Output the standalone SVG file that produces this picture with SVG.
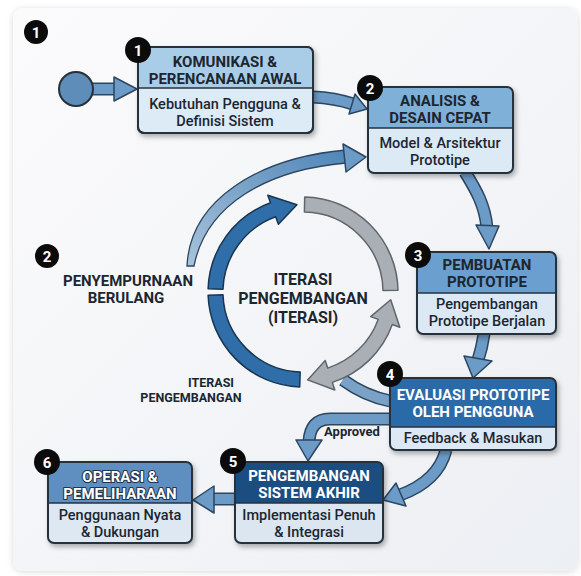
<svg xmlns="http://www.w3.org/2000/svg" width="581" height="576" viewBox="0 0 581 576">
<defs>
<linearGradient id="card" x1="0" y1="0" x2="1" y2="1"><stop offset="0" stop-color="#fbfbfc"/><stop offset="1" stop-color="#eceff3"/></linearGradient>
<linearGradient id="taper" x1="0" y1="1" x2="1" y2="0"><stop offset="0" stop-color="#a9c3da"/><stop offset="1" stop-color="#4f86b8"/></linearGradient>
<filter id="sh" x="-10%" y="-10%" width="130%" height="130%"><feDropShadow dx="2" dy="3" stdDeviation="2.5" flood-color="#000" flood-opacity="0.3"/></filter>
<filter id="csh" x="-5%" y="-5%" width="110%" height="110%"><feDropShadow dx="0" dy="1" stdDeviation="3" flood-color="#000" flood-opacity="0.15"/></filter>
</defs>
<style>
text{font-family:Roboto,"Liberation Sans",sans-serif;font-weight:700;text-anchor:middle}
.box{stroke:#27303b;stroke-width:2}
.div{stroke:#27303b;stroke-width:1.6}
.hd{font-size:15px;fill:#1c2631}
.hw{font-size:15px;fill:#ffffff}
.ho{font-size:15px;fill:#ffffff;stroke:#1f3550;stroke-width:2.2;paint-order:stroke;stroke-linejoin:round}
.bd{font-size:14.5px;font-weight:500;fill:#1c2631}
.lbl{fill:#1c2631}
.badge circle{fill:#0b0b0b}
.badge text{fill:#fff;font-size:15px}
.bandO{fill:none;stroke:#2c4660;stroke-width:13}
.bandI{fill:none;stroke:#6b9bc6;stroke-width:10}
.head{fill:#6b9bc6;stroke:#2c4660;stroke-width:1.5;stroke-linejoin:round}
.blue{fill:#2f6ea9;stroke:#1b3550;stroke-width:1.5;stroke-linejoin:round}
.gray{fill:#a9afb4;stroke:#5f666c;stroke-width:1.5;stroke-linejoin:round}
</style>
<rect x="0" y="0" width="581" height="576" fill="#ffffff"/>
<rect x="13" y="8" width="565" height="563" rx="10" fill="url(#card)" filter="url(#csh)"/>

<g id="badge-top" class="badge"><circle cx="36" cy="32" r="12"/><text x="36" y="37.5">1</text></g>

<g id="connectors">
  <!-- start arrow -->
  <path class="bandO" d="M92,89 L116,89"/><path class="bandI" d="M92,89 L116,89"/>
  <polygon class="head" points="114,77 137,89 114,101"/>
  <!-- box1 to box2 -->
  <path class="bandO" d="M313,97 Q335,98 353,104"/><path class="bandI" d="M313,97 Q335,98 353,104"/>
  <polygon class="head" points="349,114 355,94 367,109"/>
  <!-- penyempurnaan tapered arrow -->
  <path d="M187,266 C190,200 258,158 346,150 L346,163 C266,170 206,205 194,266 Z" fill="url(#taper)" stroke="#2c4660" stroke-width="1.3"/>
  <polygon class="head" points="343,144 366,157 346,172"/>
  <!-- box2 to box3 -->
  <path class="bandO" d="M465,172 C476,190 485,205 487,228"/><path class="bandI" d="M465,172 C476,190 485,205 487,228"/>
  <polygon class="head" points="476,225 499,226 489,249"/>
  <!-- box3 to box4 -->
  <path class="bandO" d="M484,334 Q482,348 478,360"/><path class="bandI" d="M484,334 Q482,348 478,360"/>
  <polygon class="head" points="464,356 492,361 473,378"/>
  <!-- box4 to cycle -->
  <path class="bandO" d="M390,401 Q365,396 343,380"/><path class="bandI" d="M390,401 Q365,396 343,380" style="stroke:#7aa2c6"/>
  <!-- approved -->
  <path class="bandO" d="M390,419 L330,419 Q310,419 309,442"/><path class="bandI" d="M390,419 L330,419 Q310,419 309,442"/>
  <polygon class="head" points="296,440 322,440 308,461"/>
  <!-- box4 to box5 -->
  <path class="bandO" d="M446,450 C440,474 422,487 400,495"/><path class="bandI" d="M446,450 C440,474 422,487 400,495"/>
  <polygon class="head" points="396,483 406,506 383,500"/>
  <!-- box5 to box6 -->
  <path class="bandO" d="M237,499 L212,499"/><path class="bandI" d="M237,499 L212,499"/>
  <polygon class="head" points="214,486 193,500 214,513"/>
  <!-- cycle -->
  <path class="blue" d="M299.7,386.9 A95 95 0 0 1 208.1,295.3 L223.0,294.8 A80 80 0 0 0 300.2,372.0 Z"/>
  <path class="blue" d="M223.0,289.2 L208.1,288.7 A95 95 0 0 1 270.5,202.7 L267.8,195.2 L296.9,204.7 L278.4,224.3 L275.6,216.8 A80 80 0 0 0 223.0,289.2 Z"/>
  <path class="gray" d="M304.7,197.0 A95 95 0 0 1 398.0,290.3 L383.0,290.6 A80 80 0 0 0 304.4,212.0 Z"/>
  <path class="gray" d="M378.2,319.4 L370.7,316.6 L390.7,299.7 L399.8,327.2 L392.3,324.5 A95 95 0 0 1 332.4,382.4 L334.8,390.0 L307.6,379.9 L325.2,360.5 L327.7,368.1 A80 80 0 0 0 378.2,319.4 Z"/>
  <text x="352" y="436" style="font-size:13px" class="lbl">Approved</text>
</g>

<g id="start"><circle cx="76" cy="89" r="17" fill="#5d8db8" stroke="#27303b" stroke-width="2"/></g>

<g id="label-penyempurnaan">
  <g class="badge"><circle cx="47" cy="256" r="12"/><text x="47" y="261.5">2</text></g>
  <text class="lbl" x="128" y="286" style="font-size:15px">PENYEMPURNAAN</text>
  <text class="lbl" x="126" y="303" style="font-size:15px">BERULANG</text>
</g>
<g id="label-iterasi-small">
  <text class="lbl" x="211" y="387" style="font-size:12.5px">ITERASI</text>
  <text class="lbl" x="191" y="402" style="font-size:12.5px">PENGEMBANGAN</text>
</g>
<g id="label-center">
  <text class="lbl" x="303" y="285" style="font-size:16px">ITERASI</text>
  <text class="lbl" x="303" y="304" style="font-size:16px">PENGEMBANGAN</text>
  <text class="lbl" x="303" y="323" style="font-size:16px">(ITERASI)</text>
</g>

<g id="node1">
  <g filter="url(#sh)">
    <rect class="box" x="138" y="47" width="175" height="86" rx="6" fill="#dcebf6"/>
    <path d="M138,88 V53 a6 6 0 0 1 6,-6 H307 a6 6 0 0 1 6,6 V88 Z" fill="#a9cde7"/>
    <rect x="138" y="47" width="175" height="86" rx="6" fill="none" class="box"/>
  </g>
  <line class="div" x1="138" y1="88" x2="313" y2="88"/>
  <text class="hd" x="225" y="67">KOMUNIKASI &amp;</text>
  <text class="hd" x="225" y="84">PERENCANAAN AWAL</text>
  <text class="bd" x="225" y="109">Kebutuhan Pengguna &amp;</text>
  <text class="bd" x="225" y="126">Definisi Sistem</text>
  <g class="badge"><circle cx="138" cy="50" r="13"/><text x="138" y="55.5">1</text></g>
</g>

<g id="node2">
  <g filter="url(#sh)">
    <rect x="368" y="87" width="145" height="86" rx="6" fill="#dceaf5"/>
    <path d="M368,128 V93 a6 6 0 0 1 6,-6 H507 a6 6 0 0 1 6,6 V128 Z" fill="#7fb0d7"/>
    <rect x="368" y="87" width="145" height="86" rx="6" fill="none" class="box"/>
  </g>
  <line class="div" x1="368" y1="128" x2="513" y2="128"/>
  <text class="hd" x="440" y="106">ANALISIS &amp;</text>
  <text class="hd" x="440" y="123">DESAIN CEPAT</text>
  <text class="bd" x="440" y="148">Model &amp; Arsitektur</text>
  <text class="bd" x="440" y="165">Prototipe</text>
  <g class="badge"><circle cx="370" cy="88" r="13"/><text x="370" y="93.5">2</text></g>
</g>

<g id="node3">
  <g filter="url(#sh)">
    <rect x="417" y="252" width="139" height="82" rx="6" fill="#dce9f4"/>
    <path d="M417,293 V258 a6 6 0 0 1 6,-6 H550 a6 6 0 0 1 6,6 V293 Z" fill="#6a9fcf"/>
    <rect x="417" y="252" width="139" height="82" rx="6" fill="none" class="box"/>
  </g>
  <line class="div" x1="417" y1="293" x2="556" y2="293"/>
  <text class="hd" x="487" y="270">PEMBUATAN</text>
  <text class="hd" x="487" y="287">PROTOTIPE</text>
  <text class="bd" x="487" y="309">Pengembangan</text>
  <text class="bd" x="487" y="326">Prototipe Berjalan</text>
  <g class="badge"><circle cx="418" cy="255" r="13"/><text x="418" y="260.5">3</text></g>
</g>

<g id="node4">
  <g filter="url(#sh)">
    <rect x="390" y="378" width="166" height="72" rx="6" fill="#dce8f3"/>
    <path d="M390,427 V384 a6 6 0 0 1 6,-6 H550 a6 6 0 0 1 6,6 V427 Z" fill="#2c6ba9"/>
    <rect x="390" y="378" width="166" height="72" rx="6" fill="none" class="box"/>
  </g>
  <line class="div" x1="390" y1="427" x2="556" y2="427"/>
  <text class="hw" x="473" y="400">EVALUASI PROTOTIPE</text>
  <text class="hw" x="473" y="417">OLEH PENGGUNA</text>
  <text class="bd" x="473" y="443">Feedback &amp; Masukan</text>
  <g class="badge"><circle cx="390" cy="374" r="13"/><text x="390" y="379.5">4</text></g>
</g>

<g id="node5">
  <g filter="url(#sh)">
    <rect x="235" y="462" width="148" height="81" rx="6" fill="#dbe6f0"/>
    <path d="M235,503 V468 a6 6 0 0 1 6,-6 H377 a6 6 0 0 1 6,6 V503 Z" fill="#1d4e80"/>
    <rect x="235" y="462" width="148" height="81" rx="6" fill="none" class="box"/>
  </g>
  <line class="div" x1="235" y1="503" x2="383" y2="503"/>
  <text class="hw" x="309" y="481">PENGEMBANGAN</text>
  <text class="hw" x="309" y="498">SISTEM AKHIR</text>
  <text class="bd" x="309" y="520">Implementasi Penuh</text>
  <text class="bd" x="309" y="537">&amp; Integrasi</text>
  <g class="badge"><circle cx="233" cy="461" r="13"/><text x="233" y="466.5">5</text></g>
</g>

<g id="node6">
  <g filter="url(#sh)">
    <rect x="48" y="462" width="144" height="81" rx="6" fill="#dde8f2"/>
    <path d="M48,503 V468 a6 6 0 0 1 6,-6 H186 a6 6 0 0 1 6,6 V503 Z" fill="#5e8fc1"/>
    <rect x="48" y="462" width="144" height="81" rx="6" fill="none" class="box"/>
  </g>
  <line class="div" x1="48" y1="503" x2="192" y2="503"/>
  <text class="ho" x="120" y="482">OPERASI &amp;</text>
  <text class="ho" x="120" y="499">PEMELIHARAAN</text>
  <text class="bd" x="120" y="520">Penggunaan Nyata</text>
  <text class="bd" x="120" y="537">&amp; Dukungan</text>
  <g class="badge"><circle cx="47" cy="462" r="13"/><text x="47" y="467.5">6</text></g>
</g>
</svg>
